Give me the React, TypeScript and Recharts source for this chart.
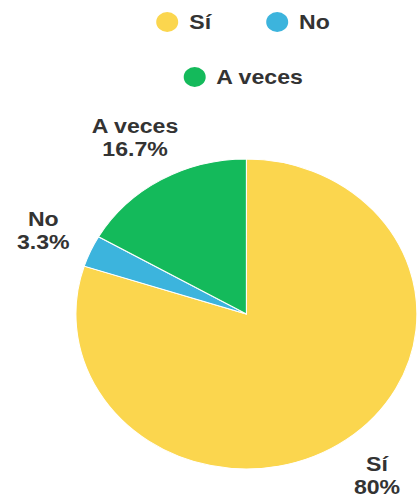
import { PieChart, Pie, Cell, Legend } from 'recharts';

// respuestas de la encuesta (porcentaje)
const categorias = ["Sí", "No", "A veces"];
const porcentajes = [80, 3.3, 16.7];
const colores = ["#FBD64E", "#3CB4DD", "#14BA5B"];

const data = categorias.map((name, i) => ({ name, value: porcentajes[i] }));

const RADIO = 155;
const RADIAN = Math.PI / 180;

// la imagen original está estirada en horizontal
const ESTIRAR = 1.1;

const renderLabel = (props: any) => {
  const { cx, cy, midAngle, name, value } = props;
  const r = RADIO + 47;
  const x = cx + r * Math.cos(-midAngle * RADIAN);
  const y = cy + r * Math.sin(-midAngle * RADIAN);
  return (
    <text
      x={x}
      y={y}
      textAnchor="middle"
      fill="#333"
      fontSize={21}
      fontWeight="bold"
      fontFamily="'Liberation Sans', Arial, sans-serif"
    >
      <tspan x={x} y={y - 6}>{name}</tspan>
      <tspan x={x} y={y + 17}>{`${value}%`}</tspan>
    </text>
  );
};

const renderLegend = (props: any) => {
  const { payload } = props;
  const filas = [payload.slice(0, 2), payload.slice(2)];
  return (
    <div style={{ width: 442, display: "flex", flexDirection: "column", alignItems: "center", gap: 31 }}>
      {filas.map((fila: any[], i: number) => (
        <div key={i} style={{ display: "flex", alignItems: "center", gap: 50, height: 24 }}>
          {fila.map((item: any) => (
            <div key={item.value} style={{ display: "flex", alignItems: "center", gap: 10 }}>
              <span style={{
                display: "inline-block",
                width: 20,
                height: 20,
                borderRadius: "50%",
                backgroundColor: item.color,
              }} />
              <span style={{
                fontFamily: "'Liberation Sans', Arial, sans-serif",
                fontWeight: "bold",
                fontSize: 21,
                color: "#333",
              }}>{item.value}</span>
            </div>
          ))}
        </div>
      ))}
    </div>
  );
};

export default function App() {
  return (
    <div style={{
      position: "fixed",
      left: 0,
      top: 0,
      width: 417,
      height: 498,
      overflow: "hidden",
      backgroundColor: "#fff",
    }}>
      <div style={{ transform: `scaleX(${ESTIRAR})`, transformOrigin: "0 0", width: 380, height: 498 }}>
        <PieChart width={380} height={498} margin={{ top: 0, right: 0, bottom: 0, left: 0 }}>
          <Legend
            verticalAlign="middle"
            align="center"
            content={renderLegend}
            itemSorter={(item: any) => categorias.indexOf(item.value)}
            wrapperStyle={{ top: 10, left: 0, width: 442 }}
          />
          <Pie
            data={data}
            dataKey="value"
            nameKey="name"
            cx={224}
            cy={314}
            outerRadius={RADIO}
            startAngle={90}
            endAngle={-270}
            stroke="#fff"
            strokeWidth={1}
            label={renderLabel}
            labelLine={false}
            isAnimationActive={false}
          >
            {data.map((d, i) => (
              <Cell key={d.name} fill={colores[i]} />
            ))}
          </Pie>
        </PieChart>
      </div>
    </div>
  );
}
